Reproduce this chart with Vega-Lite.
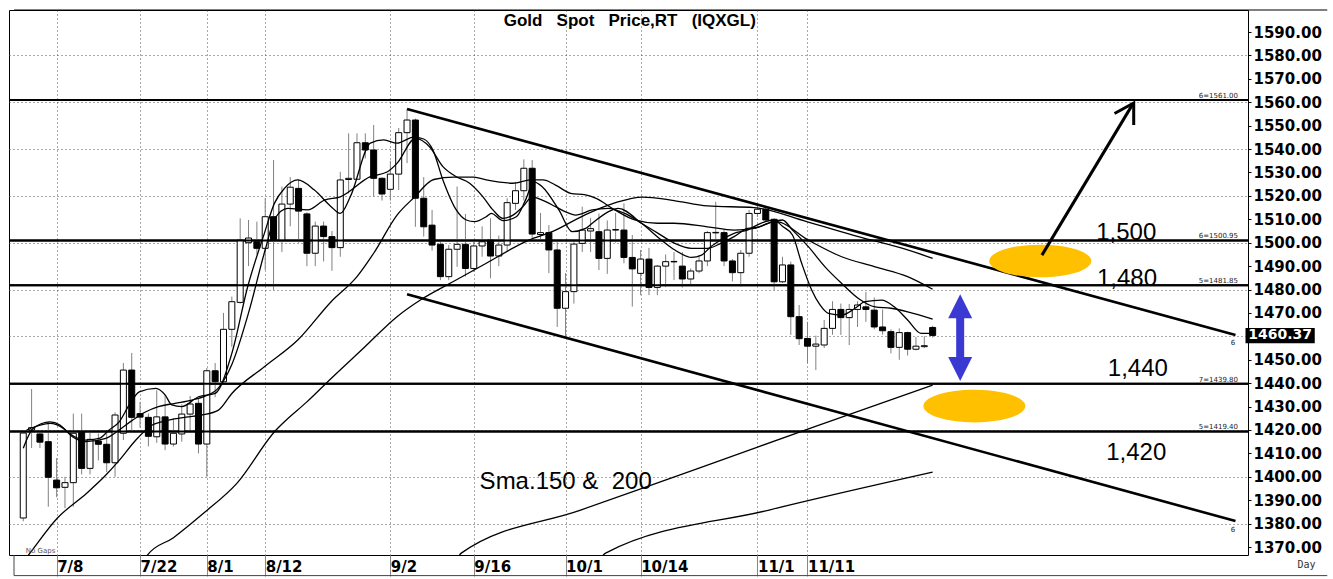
{
"$schema":"https://vega.github.io/schema/vega-lite/v6.json",
"width":1239,"height":545,
"autosize":{"type":"none"},
"padding":{"left":9,"top":10,"right":85,"bottom":24},
"background":"white",
"config":{"view":{"stroke":"black","strokeWidth":1},"axis":{"labelFont":"DejaVu Sans","labelFontWeight":"bold","labelColor":"black"}},
"datasets":{
"candles":[
{"i":-4,"o":1382.4,"h":1420,"l":1381,"c":1418.7},{"i":-3,"o":1420,"h":1437.5,"l":1412.3,"c":1421},{"i":-2,"o":1418.3,"h":1420,"l":1412.3,"c":1414.8},{"i":-1,"o":1415,"h":1423.5,"l":1387.2,"c":1399.8},{"i":0,"o":1398.6,"h":1408,"l":1391.3,"c":1395.3},{"i":1,"o":1395.5,"h":1400,"l":1386.6,"c":1397.5},{"i":2,"o":1397.5,"h":1427,"l":1387.2,"c":1418.6},{"i":3,"o":1419,"h":1427,"l":1401,"c":1403.6},{"i":4,"o":1403.6,"h":1420,"l":1401,"c":1416},{"i":5,"o":1415.3,"h":1418.5,"l":1407,"c":1413.9},{"i":6,"o":1413.9,"h":1418.5,"l":1402,"c":1406},{"i":7,"o":1406,"h":1427.5,"l":1400,"c":1426.4},{"i":8,"o":1418.6,"h":1448.6,"l":1415.7,"c":1445.6},{"i":9,"o":1445.6,"h":1452.9,"l":1420,"c":1425.4},{"i":10,"o":1427,"h":1432,"l":1421,"c":1425.5},{"i":11,"o":1425.4,"h":1427,"l":1413,"c":1417.3},{"i":12,"o":1417.1,"h":1437,"l":1414.5,"c":1425.6},{"i":13,"o":1425.6,"h":1435,"l":1411.4,"c":1414},{"i":14,"o":1414,"h":1425,"l":1413,"c":1418.6},{"i":15,"o":1418.3,"h":1431,"l":1415,"c":1426.8},{"i":16,"o":1426.8,"h":1434.5,"l":1420,"c":1431.1},{"i":17,"o":1431.4,"h":1433.6,"l":1410,"c":1414},{"i":18,"o":1414,"h":1446.5,"l":1400,"c":1445.3},{"i":19,"o":1445.3,"h":1448.6,"l":1434,"c":1440.6},{"i":20,"o":1440.6,"h":1470,"l":1440,"c":1463},{"i":21,"o":1463,"h":1477,"l":1455.5,"c":1474.8},{"i":22,"o":1474.5,"h":1510.4,"l":1474,"c":1501.1},{"i":23,"o":1500,"h":1509.7,"l":1490,"c":1502},{"i":24,"o":1500.4,"h":1509,"l":1495,"c":1497.6},{"i":25,"o":1497.6,"h":1519,"l":1488.3,"c":1511.1},{"i":26,"o":1511.1,"h":1535.3,"l":1479.8,"c":1501.1},{"i":27,"o":1501.1,"h":1524,"l":1496,"c":1516.5},{"i":28,"o":1516.5,"h":1528,"l":1507,"c":1523.7},{"i":29,"o":1523.2,"h":1527,"l":1500,"c":1513.5},{"i":30,"o":1512.3,"h":1513,"l":1490,"c":1495.5},{"i":31,"o":1495.5,"h":1509,"l":1490,"c":1507.1},{"i":32,"o":1507.1,"h":1509,"l":1492,"c":1502.6},{"i":33,"o":1502.6,"h":1505,"l":1488,"c":1497.9},{"i":34,"o":1497.9,"h":1530.3,"l":1494,"c":1526.8},{"i":35,"o":1527,"h":1546.7,"l":1521,"c":1527.5},{"i":36,"o":1527.1,"h":1546.7,"l":1527,"c":1542.7},{"i":37,"o":1542.7,"h":1546.7,"l":1536,"c":1539.6},{"i":38,"o":1539.6,"h":1550.3,"l":1519.6,"c":1527.5},{"i":39,"o":1527.5,"h":1528,"l":1518,"c":1520.8},{"i":40,"o":1522.8,"h":1535,"l":1518,"c":1529.3},{"i":41,"o":1529.3,"h":1549,"l":1522.5,"c":1547},{"i":42,"o":1547,"h":1557,"l":1534,"c":1552.4},{"i":43,"o":1552.4,"h":1553,"l":1506.8,"c":1519},{"i":44,"o":1519,"h":1528,"l":1502.6,"c":1506.8},{"i":45,"o":1507.5,"h":1514,"l":1496.6,"c":1499},{"i":46,"o":1499.3,"h":1501,"l":1484,"c":1485.5},{"i":47,"o":1485.5,"h":1499,"l":1484,"c":1497.2},{"i":48,"o":1497.2,"h":1524,"l":1489.7,"c":1499.3},{"i":49,"o":1499.3,"h":1512.3,"l":1485.5,"c":1489},{"i":50,"o":1489,"h":1501,"l":1487.5,"c":1498.6},{"i":51,"o":1498.6,"h":1507,"l":1494,"c":1500.4},{"i":52,"o":1501.1,"h":1510.4,"l":1484.8,"c":1494.3},{"i":53,"o":1494.3,"h":1503,"l":1490,"c":1499},{"i":54,"o":1499,"h":1519,"l":1496,"c":1517.1},{"i":55,"o":1516.8,"h":1526,"l":1514,"c":1522.2},{"i":56,"o":1522.2,"h":1535.6,"l":1518,"c":1531.8},{"i":57,"o":1531.8,"h":1535.3,"l":1501.1,"c":1503.7},{"i":58,"o":1503.5,"h":1512.7,"l":1501,"c":1504.3},{"i":59,"o":1504.3,"h":1507.5,"l":1487,"c":1496.9},{"i":60,"o":1496.9,"h":1501,"l":1464,"c":1472},{"i":61,"o":1472,"h":1487,"l":1459.6,"c":1479.1},{"i":62,"o":1479.1,"h":1501,"l":1474,"c":1499.4},{"i":63,"o":1499.7,"h":1515.4,"l":1496,"c":1505.4},{"i":64,"o":1505,"h":1510.6,"l":1496,"c":1506},{"i":65,"o":1504.7,"h":1512.5,"l":1488.3,"c":1493.3},{"i":66,"o":1493.3,"h":1509.5,"l":1486.7,"c":1505.4},{"i":67,"o":1505.4,"h":1512.7,"l":1500,"c":1505.6},{"i":68,"o":1505.4,"h":1516.8,"l":1491.2,"c":1493.7},{"i":69,"o":1493.7,"h":1503.3,"l":1472.7,"c":1488.8},{"i":70,"o":1486.9,"h":1496.9,"l":1477.6,"c":1493},{"i":71,"o":1493,"h":1497.8,"l":1477.6,"c":1480.9},{"i":72,"o":1480.9,"h":1490.5,"l":1477.6,"c":1490},{"i":73,"o":1490,"h":1495,"l":1481,"c":1491.9},{"i":74,"o":1491.8,"h":1496,"l":1484,"c":1492},{"i":75,"o":1490,"h":1496,"l":1480.8,"c":1484.5},{"i":76,"o":1484.5,"h":1489,"l":1482,"c":1487.9},{"i":77,"o":1487.9,"h":1494.5,"l":1487,"c":1492.2},{"i":78,"o":1492.2,"h":1505,"l":1490,"c":1504.3},{"i":79,"o":1504.2,"h":1517.5,"l":1500.4,"c":1504.4},{"i":80,"o":1504.3,"h":1505.5,"l":1490,"c":1492.2},{"i":81,"o":1492.2,"h":1493,"l":1483.5,"c":1487.2},{"i":82,"o":1487.2,"h":1496.9,"l":1481.2,"c":1495.5},{"i":83,"o":1495.5,"h":1514,"l":1494,"c":1512.5},{"i":84,"o":1512.5,"h":1516,"l":1511,"c":1514.3},{"i":85,"o":1514.3,"h":1515,"l":1509,"c":1509.7},{"i":86,"o":1510,"h":1510.5,"l":1479.8,"c":1483.3},{"i":87,"o":1483.3,"h":1494,"l":1482.8,"c":1490.5},{"i":88,"o":1490.5,"h":1491.9,"l":1460.6,"c":1468.4},{"i":89,"o":1468.4,"h":1473.4,"l":1456.3,"c":1459},{"i":90,"o":1459.1,"h":1466.2,"l":1448.5,"c":1455.8},{"i":91,"o":1455.8,"h":1460.3,"l":1445.6,"c":1456.7},{"i":92,"o":1456.3,"h":1467,"l":1455,"c":1463.4},{"i":93,"o":1463.4,"h":1475,"l":1460.7,"c":1471.5},{"i":94,"o":1471.5,"h":1474,"l":1460.6,"c":1468},{"i":95,"o":1468,"h":1473.8,"l":1456.3,"c":1471.5},{"i":96,"o":1471.5,"h":1475,"l":1464,"c":1473.4},{"i":97,"o":1472.6,"h":1479,"l":1466.2,"c":1471.5},{"i":98,"o":1471.2,"h":1476.6,"l":1463,"c":1464},{"i":99,"o":1464,"h":1471.5,"l":1460.7,"c":1462.4},{"i":100,"o":1462,"h":1463,"l":1452.7,"c":1455.3},{"i":101,"o":1455.3,"h":1463.4,"l":1450,"c":1461.6},{"i":102,"o":1461.6,"h":1462,"l":1451.8,"c":1454.5},{"i":103,"o":1454.5,"h":1459.7,"l":1454,"c":1455.8},{"i":104,"o":1455.6,"h":1460,"l":1455,"c":1456},{"i":105,"o":1463.8,"h":1464.5,"l":1459.5,"c":1460.4}
],
"ma":[
{"s":"F","i":-4,"p":1412.2},{"s":"F","i":-2.8,"p":1420.7},{"s":"F","i":-0.8,"p":1423.5},{"s":"F","i":0.4,"p":1422.1},{"s":"F","i":1.5,"p":1418.6},{"s":"F","i":3.5,"p":1415.7},{"s":"F","i":5.1,"p":1416.4},{"s":"F","i":6.3,"p":1420},{"s":"F","i":7.5,"p":1423.5},{"s":"F","i":8.7,"p":1430.7},{"s":"F","i":9.9,"p":1436.3},{"s":"F","i":11.9,"p":1437.8},{"s":"F","i":13,"p":1435},{"s":"F","i":13.8,"p":1430.7},{"s":"F","i":15,"p":1430},{"s":"F","i":17,"p":1434.2},{"s":"F","i":19,"p":1435.6},{"s":"F","i":21,"p":1452.7},{"s":"F","i":22.9,"p":1481.2},{"s":"F","i":24.9,"p":1504},{"s":"F","i":26.1,"p":1516.8},{"s":"F","i":27.3,"p":1523.2},{"s":"F","i":28.9,"p":1526.8},{"s":"F","i":30.9,"p":1522.5},{"s":"F","i":32.9,"p":1515.4},{"s":"F","i":34,"p":1512.5},{"s":"F","i":35.2,"p":1519.6},{"s":"F","i":37.6,"p":1542.5},{"s":"F","i":39.2,"p":1543.9},{"s":"F","i":40.8,"p":1542.5},{"s":"F","i":42.8,"p":1545.1},{"s":"F","i":44,"p":1544.3},{"s":"F","i":45.1,"p":1539.6},{"s":"F","i":46.3,"p":1526.8},{"s":"F","i":47.9,"p":1514},{"s":"F","i":49.1,"p":1509.7},{"s":"F","i":50.1,"p":1509},{"s":"F","i":51.5,"p":1511.1},{"s":"F","i":52.1,"p":1512.5},{"s":"F","i":53.5,"p":1509.4},{"s":"F","i":55.1,"p":1511.1},{"s":"F","i":56.2,"p":1518.2},{"s":"F","i":57.2,"p":1526},{"s":"F","i":58.2,"p":1523.9},{"s":"F","i":60.2,"p":1514},{"s":"F","i":61.8,"p":1504.7},{"s":"F","i":63.4,"p":1506.1},{"s":"F","i":64.2,"p":1508.3},{"s":"F","i":66.1,"p":1513.2},{"s":"F","i":67.3,"p":1514.7},{"s":"F","i":70.1,"p":1508.3},{"s":"F","i":72.5,"p":1501.1},{"s":"F","i":74.1,"p":1496.9},{"s":"F","i":76.1,"p":1493.7},{"s":"F","i":77.3,"p":1494.7},{"s":"F","i":78.4,"p":1498.3},{"s":"F","i":79.6,"p":1501.1},{"s":"F","i":81.2,"p":1504},{"s":"F","i":82.8,"p":1505.4},{"s":"F","i":84.4,"p":1508.3},{"s":"F","i":86,"p":1509.7},{"s":"F","i":87,"p":1507},{"s":"F","i":88.2,"p":1503.3},{"s":"F","i":89.3,"p":1491.2},{"s":"F","i":90.5,"p":1479.8},{"s":"F","i":91.5,"p":1473.4},{"s":"F","i":92.5,"p":1469.8},{"s":"F","i":94.1,"p":1469.1},{"s":"F","i":95.7,"p":1472},{"s":"F","i":96.9,"p":1474.8},{"s":"F","i":98.9,"p":1475.5},{"s":"F","i":100.4,"p":1472.6},{"s":"F","i":102,"p":1467},{"s":"F","i":103.6,"p":1461.3},{"s":"F","i":105,"p":1461.3},
{"s":"M","i":-3.6,"p":1420},{"s":"M","i":-0.8,"p":1422.8},{"s":"M","i":0.8,"p":1420.7},{"s":"M","i":1.9,"p":1417.1},{"s":"M","i":3.5,"p":1415},{"s":"M","i":5.9,"p":1416.4},{"s":"M","i":7.5,"p":1420},{"s":"M","i":9.1,"p":1424.2},{"s":"M","i":10.7,"p":1427.8},{"s":"M","i":12.2,"p":1430},{"s":"M","i":14.2,"p":1431.4},{"s":"M","i":16.2,"p":1432.8},{"s":"M","i":17.8,"p":1434.5},{"s":"M","i":19.4,"p":1438},{"s":"M","i":21,"p":1448},{"s":"M","i":23,"p":1470},{"s":"M","i":25,"p":1497},{"s":"M","i":26.1,"p":1510},{"s":"M","i":27.7,"p":1514.7},{"s":"M","i":30.1,"p":1514},{"s":"M","i":32.1,"p":1518.2},{"s":"M","i":34,"p":1519.6},{"s":"M","i":37.6,"p":1528.2},{"s":"M","i":39.6,"p":1530.2},{"s":"M","i":40.8,"p":1533.9},{"s":"M","i":43,"p":1544.6},{"s":"M","i":44.7,"p":1541},{"s":"M","i":46.3,"p":1532.5},{"s":"M","i":47.9,"p":1528.2},{"s":"M","i":49.5,"p":1525.4},{"s":"M","i":51.1,"p":1519.6},{"s":"M","i":52.3,"p":1514},{"s":"M","i":53.5,"p":1510.4},{"s":"M","i":54.7,"p":1511.8},{"s":"M","i":55.9,"p":1515.4},{"s":"M","i":57,"p":1519.6},{"s":"M","i":58.2,"p":1518.2},{"s":"M","i":59.8,"p":1515.4},{"s":"M","i":61,"p":1513.2},{"s":"M","i":62.2,"p":1511.8},{"s":"M","i":64.2,"p":1514},{"s":"M","i":66.1,"p":1514.7},{"s":"M","i":68.1,"p":1512.5},{"s":"M","i":70.1,"p":1508.3},{"s":"M","i":72.1,"p":1504},{"s":"M","i":74.1,"p":1499.7},{"s":"M","i":76.1,"p":1497.6},{"s":"M","i":78,"p":1497.6},{"s":"M","i":79.6,"p":1499.7},{"s":"M","i":81.2,"p":1502.6},{"s":"M","i":82.8,"p":1506.1},{"s":"M","i":84.2,"p":1506.8},{"s":"M","i":85.8,"p":1509},{"s":"M","i":87,"p":1509.7},{"s":"M","i":88.2,"p":1505.4},{"s":"M","i":90.1,"p":1498.3},{"s":"M","i":92.1,"p":1489.7},{"s":"M","i":94.1,"p":1482.6},{"s":"M","i":96.1,"p":1476.2},{"s":"M","i":98.1,"p":1472.6},{"s":"M","i":100,"p":1472},{"s":"M","i":102,"p":1470.5},{"s":"M","i":105,"p":1467.4},
{"s":"S","i":-3.5,"p":1366},{"s":"S","i":-3.2,"p":1367.4},{"s":"S","i":0.1,"p":1382.4},{"s":"S","i":3.6,"p":1393},{"s":"S","i":5.7,"p":1400},{"s":"S","i":7.5,"p":1407},{"s":"S","i":9.5,"p":1415.7},{"s":"S","i":11.4,"p":1422},{"s":"S","i":13.4,"p":1424.2},{"s":"S","i":15.5,"p":1425.5},{"s":"S","i":17.4,"p":1426.4},{"s":"S","i":19.4,"p":1428.5},{"s":"S","i":21,"p":1435.6},{"s":"S","i":24.9,"p":1447},{"s":"S","i":28.9,"p":1458.4},{"s":"S","i":32.9,"p":1474.8},{"s":"S","i":36,"p":1485.5},{"s":"S","i":38,"p":1495.5},{"s":"S","i":40.8,"p":1511.8},{"s":"S","i":42.9,"p":1519.5},{"s":"S","i":45.2,"p":1527},{"s":"S","i":47.6,"p":1528},{"s":"S","i":50,"p":1528},{"s":"S","i":51.5,"p":1526.8},{"s":"S","i":54.7,"p":1525.4},{"s":"S","i":56.8,"p":1526.8},{"s":"S","i":58.3,"p":1526.8},{"s":"S","i":59.8,"p":1524.6},{"s":"S","i":61.6,"p":1521.1},{"s":"S","i":63.4,"p":1520.4},{"s":"S","i":64.6,"p":1519},{"s":"S","i":66.9,"p":1514},{"s":"S","i":69.3,"p":1509.7},{"s":"S","i":72,"p":1508.3},{"s":"S","i":74,"p":1508.3},{"s":"S","i":78,"p":1506.8},{"s":"S","i":81.2,"p":1505.4},{"s":"S","i":83.6,"p":1506.1},{"s":"S","i":86.2,"p":1509},{"s":"S","i":90.1,"p":1501.1},{"s":"S","i":94.1,"p":1494},{"s":"S","i":98.1,"p":1489.7},{"s":"S","i":102,"p":1485.5},{"s":"S","i":105,"p":1480.1},
{"s":"L50","i":10.5,"p":1364},{"s":"L50","i":10.9,"p":1366.6},{"s":"L50","i":14,"p":1374},{"s":"L50","i":17.6,"p":1384.4},{"s":"L50","i":21.6,"p":1397.2},{"s":"L50","i":26.3,"p":1420},{"s":"L50","i":27.5,"p":1424.2},{"s":"L50","i":30,"p":1432},{"s":"L50","i":32.9,"p":1442},{"s":"L50","i":36.8,"p":1455},{"s":"L50","i":40.8,"p":1468.4},{"s":"L50","i":43.6,"p":1475.5},{"s":"L50","i":47.5,"p":1483.3},{"s":"L50","i":51.5,"p":1491.2},{"s":"L50","i":56.6,"p":1501.1},{"s":"L50","i":59.4,"p":1504.7},{"s":"L50","i":63.4,"p":1512},{"s":"L50","i":66.9,"p":1517},{"s":"L50","i":70.2,"p":1519.5},{"s":"L50","i":74,"p":1518},{"s":"L50","i":78,"p":1515.7},{"s":"L50","i":83.6,"p":1515},{"s":"L50","i":89.9,"p":1509},{"s":"L50","i":96.1,"p":1502.6},{"s":"L50","i":102,"p":1496.9},{"s":"L50","i":105,"p":1493.3},
{"s":"L150","i":48.2,"p":1366},{"s":"L150","i":48.5,"p":1367.4},{"s":"L150","i":62.8,"p":1385.8},{"s":"L150","i":77,"p":1403.7},{"s":"L150","i":91.3,"p":1422},{"s":"L150","i":105,"p":1439.2},
{"s":"L200","i":65.5,"p":1366.5},{"s":"L200","i":65.8,"p":1367.4},{"s":"L200","i":85.4,"p":1385.8},{"s":"L200","i":105,"p":1402}
],
"channel":[{"g":"up","i":42,"p":1557.1},{"g":"up","i":141.3,"p":1460.6},{"g":"lo","i":42,"p":1478},{"g":"lo","i":141.3,"p":1381.1}],
"levels":[{"v":1561.0,"t":"6=1561.00"},{"v":1500.95,"t":"6=1500.95"},{"v":1481.85,"t":"5=1481.85"},{"v":1439.8,"t":"7=1439.80"},{"v":1419.4,"t":"5=1419.40"}],
"arrow":[{"g":"shaft","k":0,"i":118.1,"p":1494.7},{"g":"shaft","k":1,"i":129.0,"p":1559.3},{"g":"head","k":0,"i":126.8,"p":1555.2},{"g":"head","k":1,"i":129.1,"p":1559.7},{"g":"head","k":2,"i":129.1,"p":1550.3}],
"ellipses":[{"i":117.9,"p":1492.2},{"i":110.0,"p":1430.2}],
"blue":[{"i":108.3,"p":1472.9,"p2":1446.0}],
"blueheads":[{"i":108.3,"p":1472.9,"dir":"up"},{"i":108.3,"p":1446.0,"dir":"down"}],
"bigtext":[{"t":"1,500","i":124.6,"p":1501.1},{"t":"1,480","i":124.7,"p":1481.5},{"t":"1,440","i":126.0,"p":1443.0},{"t":"1,420","i":125.8,"p":1407.2},{"t":"Sma.150 &\u00a0 200","i":50.7,"p":1394.8}],
"sixes":[{"t":"6","i":141.0,"p":1457.1},{"t":"6","i":141.0,"p":1377.3}],
"price":[{"v":1460.37,"t":"1460.37"}],
"title":[{"t":"Gold\u00a0\u00a0 Spot\u00a0\u00a0 Price,RT\u00a0\u00a0 (IQXGL)"}]
},
"resolve":{"axis":{"y":"independent"}},
"layer":[
{"data":{"name":"levels"},"mark":{"type":"rule","color":"black","strokeWidth":2},
 "encoding":{"y":{"field":"v","type":"quantitative","scale":{"domain":[1366.6,1599.4],"nice":false,"zero":false},
  "axis":{"orient":"left","values":[1380,1400,1420,1440,1460,1480,1500,1520,1540,1560,1580],"grid":true,"gridDash":[1,3],"gridColor":"#555","labels":false,"ticks":false,"domain":false,"title":null}}}},
{"data":{"name":"candles"},"mark":{"type":"rule","color":"#808080","strokeWidth":1},
 "encoding":{"x":{"field":"i","type":"quantitative","scale":{"domain":[-5.11,142.2],"nice":false,"zero":false},
   "axis":{"values":[0,10,18,25,40,50,61,70,84,90],"labelExpr":"datum.value==0?'7/8':datum.value==10?'7/22':datum.value==18?'8/1':datum.value==25?'8/12':datum.value==40?'9/2':datum.value==50?'9/16':datum.value==61?'10/1':datum.value==70?'10/14':datum.value==84?'11/1':'11/11'","grid":true,"gridDash":[1,3],"gridColor":"#555","tickSize":21,"tickColor":"#888","labelAlign":"left","labelDx":2,"labelBaseline":"top","labelPadding":-17,"labelFontSize":15,"labelFlush":false,"labelOverlap":false,"domain":false,"title":null}},
  "y":{"field":"l","type":"quantitative","scale":{"domain":[1366.6,1599.4],"nice":false,"zero":false},
   "axis":{"orient":"right","values":[1370,1380,1390,1400,1410,1420,1430,1440,1450,1470,1480,1490,1500,1510,1520,1530,1540,1550,1560,1570,1580,1590],"labelExpr":"format(datum.value,'.2f')","labelFontSize":15,"tickSize":3,"tickColor":"black","labelPadding":2,"labelFlush":false,"labelOverlap":false,"grid":false,"domain":false,"title":null}},
  "y2":{"field":"h"}}},
{"data":{"name":"candles"},"mark":{"type":"bar","orient":"vertical","size":6,"stroke":"black","strokeWidth":1},
 "encoding":{"x":{"field":"i","type":"quantitative","scale":{"domain":[-5.11,142.2],"nice":false,"zero":false}},"y":{"field":"o","type":"quantitative","scale":{"domain":[1366.6,1599.4],"nice":false,"zero":false},"axis":null},"y2":{"field":"c"},
  "fill":{"condition":{"test":"datum.c >= datum.o","value":"white"},"value":"black"}}},
{"data":{"name":"levels"},"mark":{"type":"rule","color":"black","strokeWidth":2},
 "encoding":{"y":{"field":"v","type":"quantitative","scale":{"domain":[1366.6,1599.4],"nice":false,"zero":false},"axis":null}}},
{"data":{"name":"ma"},"mark":{"type":"line","color":"black","strokeWidth":1.3,"interpolate":"monotone","clip":true},
 "encoding":{"x":{"field":"i","type":"quantitative","scale":{"domain":[-5.11,142.2],"nice":false,"zero":false}},"y":{"field":"p","type":"quantitative","scale":{"domain":[1366.6,1599.4],"nice":false,"zero":false},"axis":null},"detail":{"field":"s"}}},
{"data":{"name":"channel"},"mark":{"type":"line","color":"black","strokeWidth":2.6},
 "encoding":{"x":{"field":"i","type":"quantitative","scale":{"domain":[-5.11,142.2],"nice":false,"zero":false}},"y":{"field":"p","type":"quantitative","scale":{"domain":[1366.6,1599.4],"nice":false,"zero":false},"axis":null},"detail":{"field":"g"}}},
{"data":{"name":"ellipses"},"mark":{"type":"point","shape":"M-1,0A1,0.32 0 1,1 1,0A1,0.32 0 1,1 -1,0Z","filled":true,"fill":"#FFC000","strokeWidth":0,"opacity":1,"size":10404},
 "encoding":{"x":{"field":"i","type":"quantitative","scale":{"domain":[-5.11,142.2],"nice":false,"zero":false}},"y":{"field":"p","type":"quantitative","scale":{"domain":[1366.6,1599.4],"nice":false,"zero":false},"axis":null}}},
{"data":{"name":"blue"},"mark":{"type":"rule","color":"#3A3AD2","strokeWidth":8},
 "encoding":{"x":{"field":"i","type":"quantitative","scale":{"domain":[-5.11,142.2],"nice":false,"zero":false}},"y":{"field":"p","type":"quantitative","scale":{"domain":[1366.6,1599.4],"nice":false,"zero":false},"axis":null},"y2":{"field":"p2"}}},
{"data":{"name":"blueheads"},"mark":{"type":"point","filled":true,"fill":"#3A3AD2","strokeWidth":0,"opacity":1,"size":576},
 "encoding":{"x":{"field":"i","type":"quantitative","scale":{"domain":[-5.11,142.2],"nice":false,"zero":false}},"y":{"field":"p","type":"quantitative","scale":{"domain":[1366.6,1599.4],"nice":false,"zero":false},"axis":null},
  "shape":{"field":"dir","type":"nominal","scale":{"domain":["up","down"],"range":["M0,-1L1,1L-1,1Z","M0,1L1,-1L-1,-1Z"]},"legend":null}}},
{"data":{"name":"arrow"},"mark":{"type":"line","color":"black","strokeWidth":3},
 "encoding":{"x":{"field":"i","type":"quantitative","scale":{"domain":[-5.11,142.2],"nice":false,"zero":false}},"y":{"field":"p","type":"quantitative","scale":{"domain":[1366.6,1599.4],"nice":false,"zero":false},"axis":null},"detail":{"field":"g"},"order":{"field":"k"}}},
{"data":{"name":"bigtext"},"mark":{"type":"text","font":"Liberation Sans","fontSize":24,"align":"left","baseline":"alphabetic","color":"black"},
 "encoding":{"x":{"field":"i","type":"quantitative","scale":{"domain":[-5.11,142.2],"nice":false,"zero":false}},"y":{"field":"p","type":"quantitative","scale":{"domain":[1366.6,1599.4],"nice":false,"zero":false},"axis":null},"text":{"field":"t"}}},
{"data":{"name":"title"},"mark":{"type":"text","font":"Liberation Sans","fontSize":17,"fontWeight":"bold","align":"center","baseline":"middle","color":"black","clip":false},
 "encoding":{"x":{"datum":68.7,"type":"quantitative","scale":{"domain":[-5.11,142.2],"nice":false,"zero":false}},"y":{"datum":1594.8,"type":"quantitative","scale":{"domain":[1366.6,1599.4],"nice":false,"zero":false},"axis":null},"text":{"field":"t"}}},
{"data":{"name":"levels"},"mark":{"type":"text","font":"DejaVu Sans","fontSize":7,"align":"right","baseline":"bottom","color":"#222","dy":-1,"clip":false},
 "encoding":{"x":{"datum":141.6,"type":"quantitative","scale":{"domain":[-5.11,142.2],"nice":false,"zero":false}},"y":{"field":"v","type":"quantitative","scale":{"domain":[1366.6,1599.4],"nice":false,"zero":false},"axis":null},"text":{"field":"t"}}},
{"data":{"name":"sixes"},"mark":{"type":"text","font":"DejaVu Sans","fontSize":7,"align":"center","baseline":"middle","color":"#222","clip":false},
 "encoding":{"x":{"field":"i","type":"quantitative","scale":{"domain":[-5.11,142.2],"nice":false,"zero":false}},"y":{"field":"p","type":"quantitative","scale":{"domain":[1366.6,1599.4],"nice":false,"zero":false},"axis":null},"text":{"field":"t"}}},
{"data":{"values":[{"t":"No Gaps"}]},"mark":{"type":"text","font":"DejaVu Sans","fontSize":7,"align":"left","baseline":"alphabetic","color":"#555","clip":false},
 "encoding":{"x":{"datum":-3.7,"type":"quantitative","scale":{"domain":[-5.11,142.2],"nice":false,"zero":false}},"y":{"datum":1367.6,"type":"quantitative","scale":{"domain":[1366.6,1599.4],"nice":false,"zero":false},"axis":null},"text":{"field":"t"}}},
{"data":{"values":[{"t":"Day"}]},"mark":{"type":"text","font":"DejaVu Sans Mono","fontSize":10,"align":"center","baseline":"middle","color":"#333","clip":false},
 "encoding":{"x":{"datum":149.8,"type":"quantitative","scale":{"domain":[-5.11,142.2],"nice":false,"zero":false}},"y":{"datum":1362.3,"type":"quantitative","scale":{"domain":[1366.6,1599.4],"nice":false,"zero":false},"axis":null},"text":{"field":"t"}}},
{"data":{"name":"price"},"mark":{"type":"rect","color":"black","clip":false},
 "encoding":{"x":{"datum":142.5,"type":"quantitative","scale":{"domain":[-5.11,142.2],"nice":false,"zero":false}},"x2":{"datum":150.8},"y":{"datum":1463.6,"type":"quantitative","scale":{"domain":[1366.6,1599.4],"nice":false,"zero":false},"axis":null},"y2":{"datum":1457.1}}},
{"data":{"name":"price"},"mark":{"type":"text","font":"DejaVu Sans","fontWeight":"bold","fontSize":14,"align":"center","baseline":"middle","color":"white","clip":false},
 "encoding":{"x":{"datum":146.65,"type":"quantitative","scale":{"domain":[-5.11,142.2],"nice":false,"zero":false}},"y":{"field":"v","type":"quantitative","scale":{"domain":[1366.6,1599.4],"nice":false,"zero":false},"axis":null},"text":{"field":"t"}}},
{"data":{"values":[{"a":1}]},"mark":{"type":"rule","color":"#444","strokeWidth":1,"clip":false},
 "encoding":{"x":{"datum":-5.11,"type":"quantitative","scale":{"domain":[-5.11,142.2],"nice":false,"zero":false}},"x2":{"datum":152.3},"y":{"datum":1357.8,"type":"quantitative","scale":{"domain":[1366.6,1599.4],"nice":false,"zero":false},"axis":null}}},
{"data":{"values":[{"a":1}]},"mark":{"type":"rule","color":"black","strokeWidth":1,"clip":false},
 "encoding":{"x":{"datum":-5.11,"type":"quantitative","scale":{"domain":[-5.11,142.2],"nice":false,"zero":false}},"x2":{"datum":152.3},"y":{"datum":1599.4,"type":"quantitative","scale":{"domain":[1366.6,1599.4],"nice":false,"zero":false},"axis":null}}},
{"data":{"values":[{"a":1}]},"mark":{"type":"rule","color":"#444","strokeWidth":1,"clip":false},
 "encoding":{"x":{"datum":-5.11,"type":"quantitative","scale":{"domain":[-5.11,142.2],"nice":false,"zero":false}},"y":{"datum":1366.6,"type":"quantitative","scale":{"domain":[1366.6,1599.4],"nice":false,"zero":false},"axis":null},"y2":{"datum":1357.8}}}
]
}
